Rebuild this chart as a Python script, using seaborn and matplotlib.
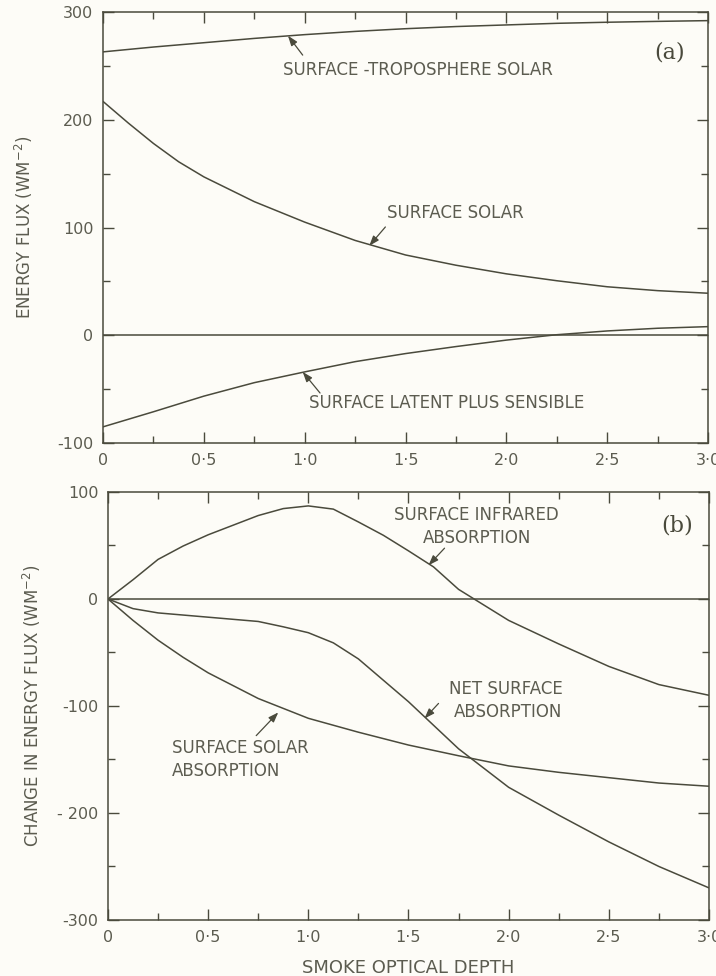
import numpy as np
import pandas as pd
import matplotlib
matplotlib.use("Agg")
import matplotlib.pyplot as plt
from matplotlib.ticker import MultipleLocator
import seaborn as sns

# ---- data ----
DEPTH = [0, 0.25, 0.5, 0.75, 1.0, 1.25, 1.5, 1.75, 2.0, 2.25, 2.5, 2.75, 3.0]

# panel (a)
TROPO_SOLAR = [263, 267.5, 271.5, 275.5, 279, 282, 284.5, 286.5, 288, 289.5, 290.5, 291.3, 292]
SOLAR_DEPTH = [0, 0.125, 0.25, 0.375, 0.5, 0.75, 1.0, 1.25, 1.5, 1.75, 2.0, 2.25, 2.5, 2.75, 3.0]
SURF_SOLAR = [217, 197, 178, 161, 147, 124, 105, 88, 74.5, 65, 57, 50.6, 45, 41.4, 39]
LATENT_SENS = [-85, -71, -56.5, -44, -34, -24.5, -17, -10.5, -4.5, 0.5, 4, 6.5, 8]

# panel (b)
IR_DEPTH = [0, 0.125, 0.25, 0.375, 0.5, 0.75, 0.875, 1.0, 1.125, 1.25, 1.375, 1.5,
            1.625, 1.75, 2.0, 2.25, 2.5, 2.75, 3.0]
IR_ABS = [0, 18, 37, 49.5, 60, 78, 84.5, 87, 84, 72, 59.5, 45, 30, 9, -20, -42, -63, -80, -90]
NET_DEPTH = [0, 0.125, 0.25, 0.5, 0.75, 0.875, 1.0, 1.125, 1.25, 1.375, 1.5, 1.625, 1.75,
             2.0, 2.25, 2.5, 2.75, 3.0]
NET_ABS = [0, -9, -13, -17, -21, -26, -31.5, -41, -56, -76, -96, -118, -140,
           -176, -202, -227, -250, -270]
SOL_ABS_DEPTH = [0, 0.125, 0.25, 0.375, 0.5, 0.75, 1.0, 1.25, 1.5, 1.75, 2.0, 2.25, 2.5, 2.75, 3.0]
SOLAR_ABS = [0, -20, -38.5, -54.5, -69, -93, -111.5, -124.5, -136.5, -146.5, -156, -162, -167, -172, -175]

X_TICKS = [0, 0.5, 1.0, 1.5, 2.0, 2.5, 3.0]
X_LABELS = ["0", "0·5", "1·0", "1·5", "2·0", "2·5", "3·0"]
YA_TICKS = [-100, 0, 100, 200, 300]
YA_LABELS = ["-100", "0", "100", "200", "300"]
YB_TICKS = [-300, -200, -100, 0, 100]
YB_LABELS = ["-300", "- 200", "-100", "0", "100"]

INK = "#4a4a3c"
TEXT = "#5c5c50"
PAPER = "#fdfcf7"

sns.set_theme(style="ticks")
plt.rcParams["font.family"] = ["DejaVu Sans"]
plt.rcParams["axes.edgecolor"] = INK
plt.rcParams["axes.linewidth"] = 1.1


def style_axis(ax, yticks, ylabels, ylim):
    ax.set_facecolor(PAPER)
    ax.set_xlim(0, 3.0)
    ax.set_ylim(*ylim)
    ax.set_xticks(X_TICKS)
    ax.set_xticklabels(X_LABELS)
    ax.set_yticks(yticks)
    ax.set_yticklabels(ylabels)
    ax.xaxis.set_minor_locator(MultipleLocator(0.25))
    ax.yaxis.set_minor_locator(MultipleLocator(50))
    ax.tick_params(which="both", direction="in", top=True, right=True,
                   color=INK, width=1.0, labelcolor=TEXT, labelsize=11.5)
    ax.tick_params(which="major", length=8, pad=7)
    ax.tick_params(which="minor", length=5)
    for s in ax.spines.values():
        s.set_color(INK)


def label(ax, text, xy, head, tail, **kw):
    ax.text(xy[0], xy[1], text, color=TEXT, fontsize=12, va="center",
            linespacing=1.35, **kw)
    ax.annotate("", xy=head, xytext=tail,
                arrowprops=dict(arrowstyle="-|>,head_length=0.5,head_width=0.18",
                                color=INK, lw=0.9, shrinkA=0, shrinkB=0))


fig = plt.figure(figsize=(7.16, 9.76), dpi=100, facecolor=PAPER)

# ---- (a) ----
ax1 = fig.add_axes([0.1439, 0.5461, 0.845, 0.4416])
sns.lineplot(x=DEPTH, y=TROPO_SOLAR, ax=ax1, color=INK, lw=1.1)
sns.lineplot(x=SOLAR_DEPTH, y=SURF_SOLAR, ax=ax1, color=INK, lw=1.1)
sns.lineplot(x=DEPTH, y=LATENT_SENS, ax=ax1, color=INK, lw=1.1)
ax1.axhline(0, color=INK, lw=1.1)
style_axis(ax1, YA_TICKS, YA_LABELS, (-100, 300))
ax1.set_ylabel("ENERGY FLUX (WM$^{-2}$)", color=TEXT, fontsize=12, labelpad=16)

label(ax1, "SURFACE -TROPOSPHERE SOLAR", (0.89, 246), (0.917, 278), (0.99, 260))
label(ax1, "SURFACE SOLAR", (1.41, 113.5), (1.32, 83), (1.40, 100.5))
label(ax1, "SURFACE LATENT PLUS SENSIBLE", (1.02, -63), (0.99, -34), (1.076, -53.6))
ax1.text(2.81, 262, "(a)", family="DejaVu Serif", fontsize=16, color=INK,
         ha="center", va="center")

# ---- (b) ----
ax2 = fig.add_axes([0.1508, 0.0574, 0.8394, 0.4385])
sns.lineplot(x=IR_DEPTH, y=IR_ABS, ax=ax2, color=INK, lw=1.1)
sns.lineplot(x=NET_DEPTH, y=NET_ABS, ax=ax2, color=INK, lw=1.1)
sns.lineplot(x=SOL_ABS_DEPTH, y=SOLAR_ABS, ax=ax2, color=INK, lw=1.1)
ax2.axhline(0, color=INK, lw=1.1)
style_axis(ax2, YB_TICKS, YB_LABELS, (-300, 100))
ax2.set_ylabel("CHANGE IN ENERGY FLUX (WM$^{-2}$)", color=TEXT, fontsize=12, labelpad=10)
ax2.set_xlabel("SMOKE OPTICAL DEPTH", color=TEXT, fontsize=13, labelpad=10)

label(ax2, "SURFACE INFRARED\nABSORPTION", (1.84, 68), (1.60, 31.5), (1.68, 47.5),
      ha="center", multialignment="center")
label(ax2, "NET SURFACE\nABSORPTION", (2.27, -95), (1.58, -111.7), (1.65, -97.6),
      ha="right", multialignment="right")
label(ax2, "SURFACE SOLAR\nABSORPTION", (0.32, -150), (0.85, -106), (0.74, -127.7),
      ha="left", multialignment="left")
ax2.text(2.84, 69, "(b)", family="DejaVu Serif", fontsize=16, color=INK,
         ha="center", va="center")

fig.savefig("out.png", dpi=100, facecolor=PAPER)
